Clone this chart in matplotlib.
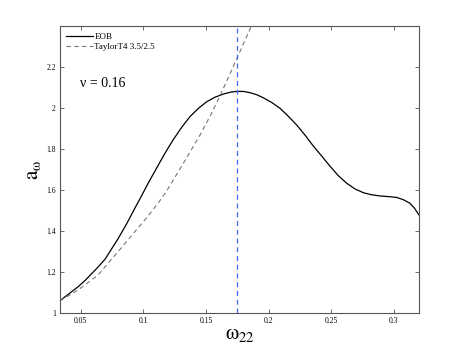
import matplotlib
matplotlib.use('Agg')
import matplotlib.pyplot as plt
from matplotlib.ticker import FormatStrFormatter

# EOB curve
eob_w = [0.0335, 0.0479, 0.0534, 0.0638, 0.0694, 0.0798, 0.0865, 0.0933, 0.0974,
         0.1040, 0.1107, 0.1173, 0.1239, 0.1305, 0.1372, 0.1439, 0.1506, 0.1572,
         0.1638, 0.1700, 0.1745, 0.1800, 0.1851, 0.1905, 0.1957, 0.2025, 0.2090,
         0.2157, 0.2224, 0.2290, 0.2356, 0.2423, 0.2490, 0.2556, 0.2623, 0.2690,
         0.2755, 0.2820, 0.2889, 0.2955, 0.3020, 0.3075, 0.3128, 0.3165, 0.3200]
eob_a = [1.060, 1.128, 1.158, 1.224, 1.262, 1.362, 1.433, 1.512, 1.558,
         1.635, 1.708, 1.780, 1.846, 1.905, 1.958, 1.998, 2.031, 2.053,
         2.068, 2.078, 2.081, 2.081, 2.075, 2.065, 2.050, 2.027, 1.999,
         1.960, 1.917, 1.868, 1.815, 1.766, 1.716, 1.670, 1.633, 1.605,
         1.587, 1.577, 1.571, 1.568, 1.564, 1.553, 1.535, 1.510, 1.478]

# TaylorT4 3.5/2.5 curve
t4_w = [0.0335, 0.0479, 0.0638, 0.0798, 0.0957, 0.1027, 0.1117, 0.1186, 0.1319,
        0.1452, 0.1545, 0.1612, 0.1705, 0.1745, 0.1862]
t4_a = [1.060, 1.112, 1.185, 1.299, 1.415, 1.465, 1.535, 1.595, 1.730,
        1.868, 1.975, 2.060, 2.185, 2.240, 2.400]

w_peak = 0.1745
nu = 0.16

plt.rcParams['font.family'] = ['Liberation Serif', 'DejaVu Serif']
plt.rcParams['mathtext.fontset'] = 'stix'

fig = plt.figure(figsize=(4.63, 3.52), dpi=100)
ax = fig.add_axes([0.1296, 0.1108, 0.7754, 0.8152])

ax.plot(eob_w, eob_a, color='black', lw=0.9, label='EOB')
ax.plot(t4_w, t4_a, color='#777777', lw=0.8, ls=(0, (4, 3)), label='TaylorT4 3.5/2.5')
ax.axvline(w_peak, color='#4466ff', lw=0.9, ls=(0, (4, 3)))

ax.set_xlim(0.0335, 0.32)
ax.set_ylim(1, 2.4)
ax.set_xticks([0.05, 0.1, 0.15, 0.2, 0.25, 0.3])
ax.set_yticks([1, 1.2, 1.4, 1.6, 1.8, 2, 2.2])
ax.xaxis.set_major_formatter(FormatStrFormatter('%g'))
ax.yaxis.set_major_formatter(FormatStrFormatter('%g'))
ax.tick_params(direction='in', top=True, right=True, labelsize=5.5,
               length=3, width=0.6, color='#555555', pad=3)
for s in ax.spines.values():
    s.set_color('#555555')
    s.set_linewidth(0.8)

ax.text(0.0495, 2.12, 'ν = %g' % nu, fontsize=10, va='center')
ax.set_xlabel(r'$\mathrm{\omega_{22}}$', fontsize=15, labelpad=0)
ax.set_ylabel(r'$\mathrm{a_{\omega}}$', fontsize=15, labelpad=2)

ax.legend(loc='upper left', frameon=False, fontsize=6.5, handlelength=3.0,
          handletextpad=0.1, borderaxespad=0.3, labelspacing=0.2)

fig.savefig('out.png', dpi=100)
